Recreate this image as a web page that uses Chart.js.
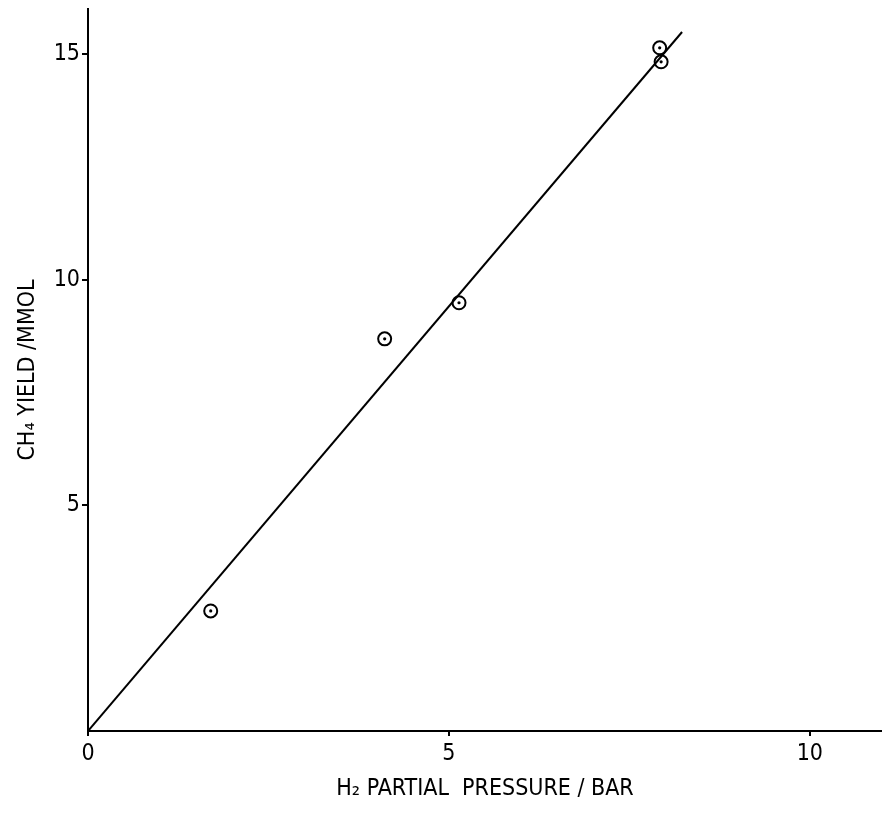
<!DOCTYPE html>
<html>
<head>
<meta charset="utf-8">
<script src="https://cdn.jsdelivr.net/npm/chart.js@4.4.1/dist/chart.umd.min.js"></script>
<style>
  html, body { margin: 0; padding: 0; background: #fff; overflow: hidden; }
  #wrap { width: 882px; height: 815px; position: relative; }
  canvas { display: block; }
</style>
</head>
<body>
<div id="wrap"><canvas id="chart"></canvas></div>
<script>
// measured points (H2 partial pressure / bar, CH4 yield / mmol)
const pressure = [1.70, 4.11, 5.14, 7.92, 7.94];
const yieldCH4 = [2.66, 8.69, 9.49, 15.14, 14.83];

// fitted line through the origin
const fitX = [0, 8.23];
const fitY = [0, 15.49];

const xTicks = [0, 5, 10];
const yTicks = [5, 10, 15];

const font = "'Liberation Sans Narrow', 'DejaVu Sans Condensed', 'Roboto Condensed', 'DejaVu Sans', sans-serif";

const points = pressure.map((x, i) => ({ x: x, y: yieldCH4[i] }));
const fitLine = fitX.map((x, i) => ({ x: x, y: fitY[i] }));

// keep the axes from reserving room for half tick labels
function noPad(s) {
  s.paddingTop = 0;
  s.paddingBottom = 0;
  s.paddingLeft = 0;
  s.paddingRight = 0;
}

const ctx = document.getElementById('chart').getContext('2d');
new Chart(ctx, {
  type: 'scatter',
  data: {
    datasets: [{
      // centre dots of the markers
      data: points,
      pointRadius: 1.6,
      pointBackgroundColor: '#000',
      pointBorderWidth: 0
    }, {
      data: points,
      pointRadius: 6.5,
      pointBackgroundColor: 'rgba(255,255,255,0)',
      pointBorderColor: '#000',
      pointBorderWidth: 2
    }, {
      type: 'line',
      data: fitLine,
      borderColor: '#000',
      borderWidth: 2,
      pointRadius: 0,
      fill: false
    }]
  },
  options: {
    responsive: true,
    maintainAspectRatio: false,
    animation: false,
    layout: { autoPadding: false, padding: { top: 9, right: 0, left: 0, bottom: 0 } },
    plugins: { legend: { display: false }, tooltip: { enabled: false } },
    scales: {
      x: {
        type: 'linear',
        min: 0,
        max: 11,
        afterBuildTicks: s => { s.ticks = xTicks.map(v => ({ value: v })); },
        afterFit: s => { s.height = 84; noPad(s); },
        border: { color: '#000', width: 2 },
        grid: { display: true, drawOnChartArea: false, drawTicks: true, tickLength: 5, color: '#000', lineWidth: 2 },
        ticks: { color: '#000', font: { family: font, size: 23 }, padding: 4, maxRotation: 0 },
        title: {
          display: true,
          text: 'H\u2082 PARTIAL  PRESSURE / BAR',
          color: '#000',
          font: { family: font, size: 23 },
          padding: { top: 0, bottom: 12 }
        }
      },
      y: {
        type: 'linear',
        min: 0,
        max: 16,
        afterBuildTicks: s => { s.ticks = yTicks.map(v => ({ value: v })); },
        afterFit: s => { s.width = 88; noPad(s); },
        border: { color: '#000', width: 2 },
        grid: { display: true, drawOnChartArea: false, drawTicks: true, tickLength: 6, color: '#000', lineWidth: 2 },
        ticks: { color: '#000', font: { family: font, size: 23 }, padding: 2 },
        title: {
          display: true,
          text: 'CH\u2084 YIELD /MMOL',
          color: '#000',
          font: { family: font, size: 23 },
          padding: { top: 14, bottom: 0 }
        }
      }
    }
  }
});
</script>
</body>
</html>
